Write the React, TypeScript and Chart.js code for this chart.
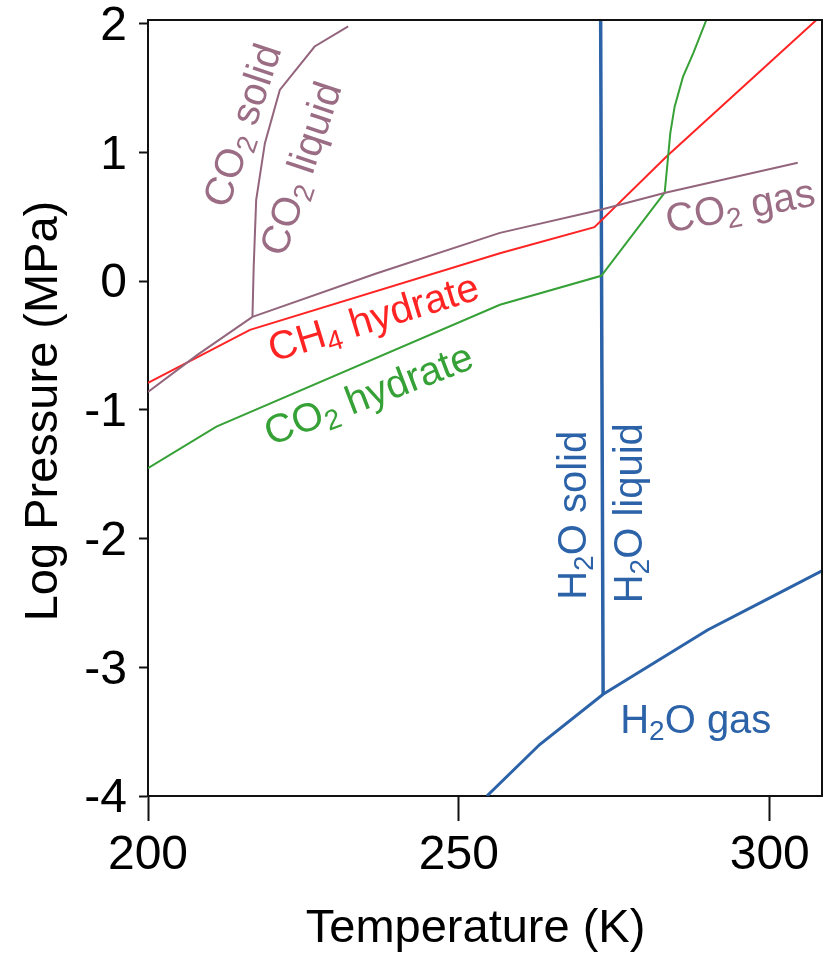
import { useEffect, useRef } from "react";
import { Chart, registerables } from "chart.js";

Chart.register(...registerables);

// Axis ticks
const xTicks = [200, 250, 300];
const yTicks = [-4, -3, -2, -1, 0, 1, 2];

// H2O solid / liquid boundary
const h2oMeltT = [272.8, 273.0, 273.2];
const h2oMeltP = [2.03, -0.68, -3.21];

// H2O vapour boundary (sublimation + vaporisation)
const h2oGasT = [254.5, 263.0, 273.2, 290.0, 300.0, 308.4];
const h2oGasP = [-4.0, -3.6, -3.21, -2.71, -2.46, -2.25];

// CO2 sublimation
const co2SubT = [200, 208, 216.8];
const co2SubP = [-0.86, -0.57, -0.277];

// CO2 melting
const co2MeltT = [216.8, 217.0, 217.2, 217.4, 218.8, 221.2, 226.8, 232.2];
const co2MeltP = [-0.277, 0.114, 0.374, 0.632, 1.073, 1.487, 1.824, 1.98];

// CO2 vaporisation
const co2VapT = [216.8, 236.7, 256.6, 272.8, 283.2, 304.5];
const co2VapP = [-0.277, 0.06, 0.376, 0.555, 0.687, 0.92];

// CH4 hydrate stability boundary
const ch4HydT = [200, 216.4, 256.6, 271.8, 283.4, 307.5];
const ch4HydP = [-0.79, -0.378, 0.218, 0.42, 0.969, 2.03];

// CO2 hydrate stability boundary
const co2HydT = [200, 211.0, 256.6, 272.9, 283.1, 283.6, 284.0, 284.7, 286.05, 287.7, 289.8];
const co2HydP = [-1.452, -1.129, -0.183, 0.042, 0.689, 0.943, 1.151, 1.357, 1.59, 1.772, 2.03];

// Region labels: [text, isSubscript]
const labelParts: [string, number][][] = [
  [["CO", 0], ["2", 1], [" solid", 0]],
  [["CO", 0], ["2", 1], [" liquid", 0]],
  [["CO", 0], ["2", 1], [" gas", 0]],
  [["CH", 0], ["4", 1], [" hydrate", 0]],
  [["CO", 0], ["2", 1], [" hydrate", 0]],
  [["H", 0], ["2", 1], ["O solid", 0]],
  [["H", 0], ["2", 1], ["O liquid", 0]],
  [["H", 0], ["2", 1], ["O gas", 0]],
];
const labelT = [215.0, 224.4, 295.2, 236.2, 235.4, 268.15, 277.2, 288.1];
const labelP = [1.215, 0.879, 0.594, -0.274, -0.87, -1.819, -1.803, -3.4];
const labelAngle = [-71.5, -71.5, -10.5, -17, -21, -90, -90, 0];

const MAUVE = "#93657c";
const MAUVE_TXT = "#9b6d84";
const RED = "#ff2424";
const GREEN = "#36a136";
const BLUE = "#2b62a8";
const labelColor = [MAUVE_TXT, MAUVE_TXT, MAUVE_TXT, RED, GREEN, BLUE, BLUE, BLUE];

const FONT = '"Liberation Sans", Arial, sans-serif';

const pts = (t: number[], p: number[]) => t.map((x, i) => ({ x, y: p[i] }));

function drawRich(ctx: CanvasRenderingContext2D, parts: [string, number][], x: number, y: number, angle: number, color: string, size: number) {
  ctx.save();
  ctx.translate(x, y);
  ctx.rotate((angle * Math.PI) / 180);
  ctx.fillStyle = color;
  ctx.textBaseline = "alphabetic";
  ctx.textAlign = "left";
  const mainF = `${size}px ${FONT}`;
  const subF = `${Math.round(size * 0.7)}px ${FONT}`;
  const widths = parts.map(([t, s]) => {
    ctx.font = s ? subF : mainF;
    return ctx.measureText(t).width;
  });
  const total = widths.reduce((a, b) => a + b, 0);
  let cx = -total / 2;
  const base = size * 0.36;
  parts.forEach(([t, s], i) => {
    ctx.font = s ? subF : mainF;
    ctx.fillText(t, cx, base + (s ? size * 0.17 : 0));
    cx += widths[i];
  });
  ctx.restore();
}

const decorPlugin = {
  id: "decor",
  afterDatasetsDraw(chart: any) {
    const { ctx, chartArea: a, scales } = chart;
    ctx.save();
    ctx.strokeStyle = "#111";
    ctx.lineWidth = 2;
    ctx.beginPath();
    ctx.moveTo(a.left, a.top);
    ctx.lineTo(a.right, a.top);
    ctx.lineTo(a.right, a.bottom);
    ctx.stroke();
    labelParts.forEach((parts, i) => {
      const px = scales.x.getPixelForValue(labelT[i]);
      const py = scales.y.getPixelForValue(labelP[i]);
      drawRich(ctx, parts, px, py, labelAngle[i], labelColor[i], 40);
    });
    ctx.fillStyle = "#000";
    ctx.font = `47px ${FONT}`;
    ctx.textAlign = "center";
    ctx.textBaseline = "alphabetic";
    ctx.fillText("Temperature (K)", a.left + (a.right - a.left) * 0.486, a.bottom + 146);
    ctx.save();
    ctx.translate(a.left - 91, (a.top + a.bottom) / 2 + 3);
    ctx.rotate(-Math.PI / 2);
    ctx.fillText("Log Pressure (MPa)", 0, 0);
    ctx.restore();
    ctx.restore();
  },
};

export default function App() {
  const ref = useRef<HTMLCanvasElement>(null);
  useEffect(() => {
    document.body.style.margin = "0";
    const line = (t: number[], p: number[], color: string, w: number) => ({
      data: pts(t, p),
      showLine: true,
      borderColor: color,
      backgroundColor: color,
      borderWidth: w,
      pointRadius: 0,
      tension: 0,
    });
    const chart = new Chart(ref.current!, {
      type: "scatter",
      data: {
        datasets: [
          line(co2SubT, co2SubP, MAUVE, 2),
          line(co2MeltT, co2MeltP, MAUVE, 2),
          line(co2VapT, co2VapP, MAUVE, 2),
          line(co2HydT, co2HydP, GREEN, 2),
          line(ch4HydT, ch4HydP, RED, 2),
          line(h2oGasT, h2oGasP, BLUE, 3),
          line(h2oMeltT, h2oMeltP, BLUE, 3.5),
        ] as any,
      },
      options: {
        animation: false,
        responsive: false,
        maintainAspectRatio: false,
        devicePixelRatio: 1,
        layout: { padding: { top: 20, right: 2, left: 0, bottom: 0 } },
        plugins: { legend: { display: false }, tooltip: { enabled: false } },
        scales: {
          x: {
            type: "linear",
            min: 200,
            max: 308.4,
            afterBuildTicks: (s: any) => {
              s.ticks = xTicks.map((v) => ({ value: v }));
            },
            afterFit: (s: any) => {
              s.height = 157;
              s.paddingLeft = 0;
              s.paddingRight = 0;
            },
            ticks: {
              font: { family: FONT, size: 48 },
              color: "#000",
              padding: 6,
              maxRotation: 0,
              autoSkip: false,
              callback: (v: any) => String(v),
            },
            grid: { drawOnChartArea: false, tickLength: 25, tickWidth: 2, tickColor: "#111" },
            border: { color: "#111", width: 2 },
          },
          y: {
            type: "linear",
            min: -4,
            max: 2.03,
            afterBuildTicks: (s: any) => {
              s.ticks = yTicks.map((v) => ({ value: v }));
            },
            afterFit: (s: any) => {
              s.width = 148;
              s.paddingTop = 0;
              s.paddingBottom = 0;
            },
            ticks: {
              font: { family: FONT, size: 48 },
              color: "#000",
              padding: 12,
              labelOffset: 3,
              autoSkip: false,
              callback: (v: any) => String(v),
            },
            grid: { drawOnChartArea: false, tickLength: 9, tickWidth: 2, tickColor: "#111" },
            border: { color: "#111", width: 2 },
          },
        },
      } as any,
      plugins: [decorPlugin],
    });
    return () => chart.destroy();
  }, []);
  return <canvas ref={ref} width={824} height={953} style={{ display: "block" }} />;
}
